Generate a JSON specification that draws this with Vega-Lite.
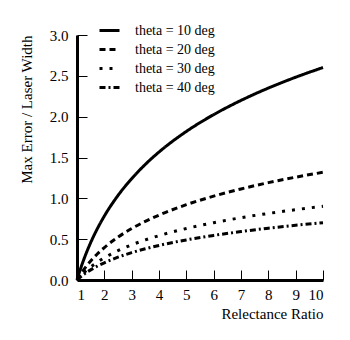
{
  "$schema": "https://vega.github.io/schema/vega-lite/v6.json",
  "width": 246,
  "height": 245,
  "autosize": {"type": "none"},
  "padding": {"left": 77, "top": 35, "right": 27, "bottom": 60},
  "background": "white",
  "config": {
    "view": {"stroke": null},
    "font": "Liberation Serif",
    "axis": {"grid": false, "domainColor": "black", "domainWidth": 3, "tickColor": "black", "tickWidth": 1, "labelColor": "black", "titleColor": "black", "labelFont": "Liberation Serif", "titleFont": "Liberation Serif", "labelFontSize": 15, "titleFontSize": 15, "titleFontWeight": "normal"},
    "legend": {"labelFont": "Liberation Serif", "labelFontSize": 14, "labelColor": "black"}
  },
  "data": {"values": [
    {"ratio": 1, "err": 0, "theta": "theta = 10 deg"},
    {"ratio": 1.1, "err": 0.108, "theta": "theta = 10 deg"},
    {"ratio": 1.25, "err": 0.252, "theta": "theta = 10 deg"},
    {"ratio": 1.5, "err": 0.458, "theta": "theta = 10 deg"},
    {"ratio": 1.75, "err": 0.632, "theta": "theta = 10 deg"},
    {"ratio": 2, "err": 0.783, "theta": "theta = 10 deg"},
    {"ratio": 2.5, "err": 1.035, "theta": "theta = 10 deg"},
    {"ratio": 3, "err": 1.241, "theta": "theta = 10 deg"},
    {"ratio": 3.5, "err": 1.416, "theta": "theta = 10 deg"},
    {"ratio": 4, "err": 1.567, "theta": "theta = 10 deg"},
    {"ratio": 5, "err": 1.819, "theta": "theta = 10 deg"},
    {"ratio": 6, "err": 2.025, "theta": "theta = 10 deg"},
    {"ratio": 7, "err": 2.199, "theta": "theta = 10 deg"},
    {"ratio": 8, "err": 2.35, "theta": "theta = 10 deg"},
    {"ratio": 9, "err": 2.483, "theta": "theta = 10 deg"},
    {"ratio": 10, "err": 2.602, "theta": "theta = 10 deg"},
    {"ratio": 1, "err": 0, "theta": "theta = 20 deg"},
    {"ratio": 1.1, "err": 0.055, "theta": "theta = 20 deg"},
    {"ratio": 1.25, "err": 0.128, "theta": "theta = 20 deg"},
    {"ratio": 1.5, "err": 0.232, "theta": "theta = 20 deg"},
    {"ratio": 1.75, "err": 0.321, "theta": "theta = 20 deg"},
    {"ratio": 2, "err": 0.397, "theta": "theta = 20 deg"},
    {"ratio": 2.5, "err": 0.525, "theta": "theta = 20 deg"},
    {"ratio": 3, "err": 0.63, "theta": "theta = 20 deg"},
    {"ratio": 3.5, "err": 0.718, "theta": "theta = 20 deg"},
    {"ratio": 4, "err": 0.794, "theta": "theta = 20 deg"},
    {"ratio": 5, "err": 0.922, "theta": "theta = 20 deg"},
    {"ratio": 6, "err": 1.027, "theta": "theta = 20 deg"},
    {"ratio": 7, "err": 1.115, "theta": "theta = 20 deg"},
    {"ratio": 8, "err": 1.192, "theta": "theta = 20 deg"},
    {"ratio": 9, "err": 1.259, "theta": "theta = 20 deg"},
    {"ratio": 10, "err": 1.319, "theta": "theta = 20 deg"},
    {"ratio": 1, "err": 0, "theta": "theta = 30 deg"},
    {"ratio": 1.1, "err": 0.037, "theta": "theta = 30 deg"},
    {"ratio": 1.25, "err": 0.087, "theta": "theta = 30 deg"},
    {"ratio": 1.5, "err": 0.159, "theta": "theta = 30 deg"},
    {"ratio": 1.75, "err": 0.219, "theta": "theta = 30 deg"},
    {"ratio": 2, "err": 0.272, "theta": "theta = 30 deg"},
    {"ratio": 2.5, "err": 0.359, "theta": "theta = 30 deg"},
    {"ratio": 3, "err": 0.431, "theta": "theta = 30 deg"},
    {"ratio": 3.5, "err": 0.491, "theta": "theta = 30 deg"},
    {"ratio": 4, "err": 0.543, "theta": "theta = 30 deg"},
    {"ratio": 5, "err": 0.631, "theta": "theta = 30 deg"},
    {"ratio": 6, "err": 0.702, "theta": "theta = 30 deg"},
    {"ratio": 7, "err": 0.763, "theta": "theta = 30 deg"},
    {"ratio": 8, "err": 0.815, "theta": "theta = 30 deg"},
    {"ratio": 9, "err": 0.861, "theta": "theta = 30 deg"},
    {"ratio": 10, "err": 0.903, "theta": "theta = 30 deg"},
    {"ratio": 1, "err": 0, "theta": "theta = 40 deg"},
    {"ratio": 1.1, "err": 0.029, "theta": "theta = 40 deg"},
    {"ratio": 1.25, "err": 0.068, "theta": "theta = 40 deg"},
    {"ratio": 1.5, "err": 0.124, "theta": "theta = 40 deg"},
    {"ratio": 1.75, "err": 0.171, "theta": "theta = 40 deg"},
    {"ratio": 2, "err": 0.211, "theta": "theta = 40 deg"},
    {"ratio": 2.5, "err": 0.279, "theta": "theta = 40 deg"},
    {"ratio": 3, "err": 0.335, "theta": "theta = 40 deg"},
    {"ratio": 3.5, "err": 0.382, "theta": "theta = 40 deg"},
    {"ratio": 4, "err": 0.423, "theta": "theta = 40 deg"},
    {"ratio": 5, "err": 0.491, "theta": "theta = 40 deg"},
    {"ratio": 6, "err": 0.546, "theta": "theta = 40 deg"},
    {"ratio": 7, "err": 0.593, "theta": "theta = 40 deg"},
    {"ratio": 8, "err": 0.634, "theta": "theta = 40 deg"},
    {"ratio": 9, "err": 0.67, "theta": "theta = 40 deg"},
    {"ratio": 10, "err": 0.702, "theta": "theta = 40 deg"}
  ]},
  "mark": {"type": "line", "color": "black", "strokeWidth": 3, "interpolate": "monotone"},
  "encoding": {
    "x": {
      "field": "ratio", "type": "quantitative",
      "scale": {"domain": [1, 10], "nice": false, "zero": false},
      "axis": {"values": [1, 2, 3, 4, 5, 6, 7, 8, 9, 10], "format": "d", "tickSize": -10, "labelPadding": 17, "title": "Relectance Ratio", "titleAnchor": "end", "titlePadding": 4}
    },
    "y": {
      "field": "err", "type": "quantitative",
      "scale": {"domain": [0, 3], "nice": false},
      "axis": {"values": [0, 0.5, 1, 1.5, 2, 2.5, 3], "format": ".1f", "tickSize": -10, "labelPadding": 19, "title": "Max Error / Laser Width", "titleAnchor": "end", "titlePadding": 15}
    },
    "strokeDash": {
      "field": "theta", "type": "nominal",
      "scale": {"domain": ["theta = 10 deg", "theta = 20 deg", "theta = 30 deg", "theta = 40 deg"], "range": [[1, 0], [6, 4], [3, 7], [6, 3, 2, 3]]},
      "legend": {"title": null, "orient": "none", "legendX": 21, "legendY": -16, "symbolType": "stroke", "symbolSize": 400, "symbolStrokeWidth": 3, "symbolStrokeColor": "black", "labelOffset": 14, "rowPadding": 0}
    }
  }
}
